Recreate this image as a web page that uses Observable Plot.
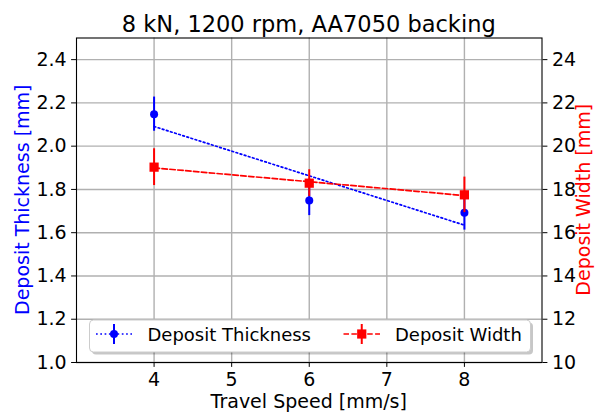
<!DOCTYPE html>
<html>
<head>
<meta charset="utf-8">
<script src="https://cdn.jsdelivr.net/npm/d3@7"></script>
<script src="https://cdn.jsdelivr.net/npm/@observablehq/plot@0.6"></script>
<style>
  html, body { margin: 0; padding: 0; background: white; }
  #chart { position: relative; width: 595px; height: 412px; }
</style>
</head>
<body>
<div id="chart"></div>
<script>
// ---- data ----
const speeds = [4, 6, 8];                       // Travel speed [mm/s]
const thickness = [2.148, 1.749, 1.692];        // Deposit thickness [mm]
const thicknessErr = [0.079, 0.07, 0.08];
const depositWidth = [19.03, 18.29, 17.75];     // Deposit width [mm]
const widthErr = [0.85, 0.62, 0.82];

const xTicks = [4, 5, 6, 7, 8];
const thicknessTicks = [1.0, 1.2, 1.4, 1.6, 1.8, 2.0, 2.2, 2.4];
const widthTicks = [10, 12, 14, 16, 18, 20, 22, 24];

const titleText = "8 kN, 1200 rpm, AA7050 backing";
const xLabel = "Travel Speed [mm/s]";
const yLeftLabel = "Deposit Thickness [mm]";
const yRightLabel = "Deposit Width [mm]";
const seriesNames = ["Deposit Thickness", "Deposit Width"];

// width axis is mapped onto the thickness scale: 10..25 mm <-> 1.0..2.5 mm
const widthToY = w => w / 10;

const rows = speeds.map((s, i) => ({
  s, t: thickness[i], te: thicknessErr[i], w: depositWidth[i], we: widthErr[i]
}));

const W = 595, H = 412;
const mL = 76, mR = 53.5, mT = 37.5, mB = 50;

const chart = Plot.plot({
  width: W, height: H,
  marginLeft: mL, marginRight: mR, marginTop: mT, marginBottom: mB,
  x: {domain: [3, 9]},
  y: {domain: [1.0, 2.5]},
  style: {fontFamily: "DejaVu Sans", fontSize: "19px", color: "black", background: "white"},
  marks: [
    Plot.gridX(xTicks, {stroke: "#b0b0b0", strokeOpacity: 1, strokeWidth: 1.4}),
    Plot.gridY(thicknessTicks, {stroke: "#b0b0b0", strokeOpacity: 1, strokeWidth: 1.4}),
    Plot.linearRegressionY(rows, {x: "s", y: "t", stroke: "blue", strokeWidth: 1.7, strokeDasharray: "1.7,2.6", ci: 0}),
    Plot.ruleX(rows, {x: "s", y1: d => d.t - d.te, y2: d => d.t + d.te, stroke: "blue", strokeWidth: 2}),
    Plot.dot(rows, {x: "s", y: "t", r: 4, fill: "blue"}),
    Plot.linearRegressionY(rows, {x: "s", y: d => widthToY(d.w), stroke: "red", strokeWidth: 1.7, strokeDasharray: "5.5,2.4", ci: 0}),
    Plot.ruleX(rows, {x: "s", y1: d => widthToY(d.w - d.we), y2: d => widthToY(d.w + d.we), stroke: "red", strokeWidth: 2}),
    Plot.dot(rows, {x: "s", y: d => widthToY(d.w), r: 5.2, symbol: "square", fill: "red"}),
    Plot.frame({stroke: "black", strokeWidth: 1.1}),
    Plot.axisX(xTicks, {tickSize: 4.9, tickPadding: 5, label: null, fill: "black"}),
    Plot.axisY(thicknessTicks, {anchor: "left", tickSize: 4.9, tickPadding: 5, tickFormat: d => d.toFixed(1), label: null, fill: "black"}),
    Plot.axisY(widthTicks.map(widthToY), {anchor: "right", tickSize: 4.9, tickPadding: 5, tickFormat: d => String(Math.round(d * 10)), label: null, fill: "black"})
  ]
});

document.getElementById("chart").appendChild(chart);

// ---- titles and axis labels ----
const svg = d3.select(chart);
const cx = (mL + (W - mR)) / 2;
const cy = (mT + (H - mB)) / 2;

svg.append("text").attr("x", cx).attr("y", 31.5)
  .attr("text-anchor", "middle").attr("font-size", "22.5px").attr("fill", "black")
  .text(titleText);

svg.append("text").attr("x", cx).attr("y", 407.5)
  .attr("text-anchor", "middle").attr("font-size", "19px").attr("fill", "black")
  .text(xLabel);

svg.append("text").attr("transform", `translate(29,${cy}) rotate(-90)`)
  .attr("text-anchor", "middle").attr("font-size", "19px").attr("fill", "blue")
  .text(yLeftLabel);

svg.append("text").attr("transform", `translate(590,${cy}) rotate(-90)`)
  .attr("text-anchor", "middle").attr("font-size", "19px").attr("fill", "red")
  .text(yRightLabel);

// ---- legend ----
const lg = svg.append("g");
const bx = 89.5, by = 320, bw = 441, bh = 32;
lg.append("rect").attr("x", bx + 2.5).attr("y", by + 2.5).attr("width", bw).attr("height", bh)
  .attr("rx", 4).attr("fill", "#000").attr("fill-opacity", 0.22);
lg.append("rect").attr("x", bx).attr("y", by).attr("width", bw).attr("height", bh)
  .attr("rx", 4).attr("fill", "white").attr("stroke", "#cccccc").attr("stroke-width", 1);

const entries = [
  {name: seriesNames[0], color: "blue", dash: "1.7,2.6", sym: "circle", x0: 96, x1: 132, tx: 147.5},
  {name: seriesNames[1], color: "red", dash: "5.5,2.4", sym: "square", x0: 343.5, x1: 380, tx: 395}
];
const ly = 334;
entries.forEach(e => {
  lg.append("line").attr("x1", e.x0).attr("x2", e.x1).attr("y1", ly).attr("y2", ly)
    .attr("stroke", e.color).attr("stroke-width", 1.7).attr("stroke-dasharray", e.dash);
  const mx = (e.x0 + e.x1) / 2;
  lg.append("line").attr("x1", mx).attr("x2", mx).attr("y1", ly - 10).attr("y2", ly + 10)
    .attr("stroke", e.color).attr("stroke-width", 2);
  if (e.sym === "circle") {
    lg.append("circle").attr("cx", mx).attr("cy", ly).attr("r", 4).attr("fill", e.color);
  } else {
    lg.append("rect").attr("x", mx - 4.6).attr("y", ly - 4.6).attr("width", 9.2).attr("height", 9.2).attr("fill", e.color);
  }
  lg.append("text").attr("x", e.tx).attr("y", 340.5).attr("font-size", "18px").attr("fill", "black")
    .attr("text-anchor", "start")
    .text(e.name);
});
</script>
</body>
</html>
